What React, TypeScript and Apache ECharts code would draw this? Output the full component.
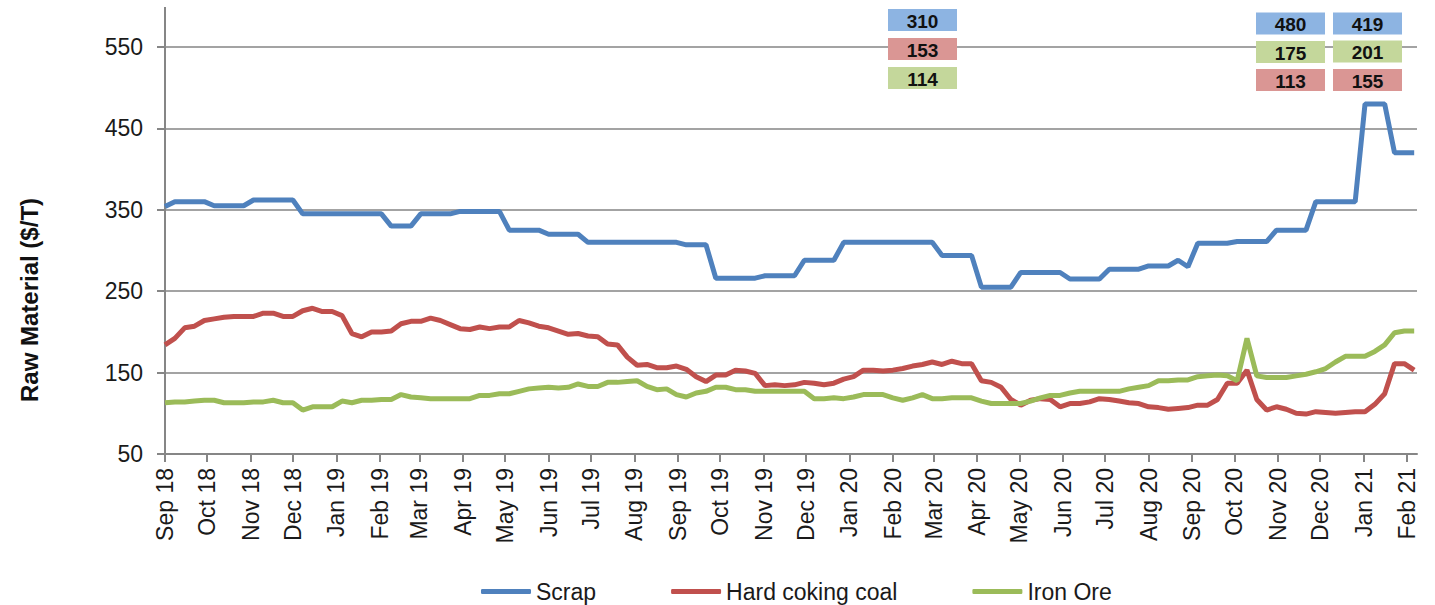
import React, { useEffect, useRef } from 'react';
import * as echarts from 'echarts';

// ---- data ----
const startDate = Date.UTC(2018, 8, 1); // first weekly observation, 1 Sep 2018
const axisDays = 892; // daily category axis, 1 Sep 2018 .. 8 Feb 2021

const monthLabels = [
  'Sep 18', 'Oct 18', 'Nov 18', 'Dec 18',
  'Jan 19', 'Feb 19', 'Mar 19', 'Apr 19', 'May 19', 'Jun 19', 'Jul 19', 'Aug 19', 'Sep 19', 'Oct 19', 'Nov 19', 'Dec 19',
  'Jan 20', 'Feb 20', 'Mar 20', 'Apr 20', 'May 20', 'Jun 20', 'Jul 20', 'Aug 20', 'Sep 20', 'Oct 20', 'Nov 20', 'Dec 20',
  'Jan 21', 'Feb 21',
];

const yTicks = [50, 150, 250, 350, 450, 550];

// weekly values, $/T
const scrap = [
  354, 360, 360, 360, 360, 355, 355, 355, 355, 362,
  362, 362, 362, 362, 345, 345, 345, 345, 345, 345,
  345, 345, 345, 330, 330, 330, 345, 345, 345, 345,
  348, 348, 348, 348, 348, 325, 325, 325, 325, 320,
  320, 320, 320, 310, 310, 310, 310, 310, 310, 310,
  310, 310, 310, 307, 307, 307, 266, 266, 266, 266,
  266, 269, 269, 269, 269, 288, 288, 288, 288, 310,
  310, 310, 310, 310, 310, 310, 310, 310, 310, 294,
  294, 294, 294, 255, 255, 255, 255, 273, 273, 273,
  273, 273, 265, 265, 265, 265, 277, 277, 277, 277,
  281, 281, 281, 288, 280, 309, 309, 309, 309, 311,
  311, 311, 311, 325, 325, 325, 325, 360, 360, 360,
  360, 360, 480, 480, 480, 420, 420, 420,
];

const coal = [
  184, 192, 205, 207, 214, 216, 218, 219, 219, 219,
  223, 223, 219, 219, 226, 229, 225, 225, 220, 198,
  194, 200, 200, 201, 210, 213, 213, 217, 214, 209,
  204, 203, 206, 204, 206, 206, 214, 211, 207, 205,
  201, 197, 198, 195, 194, 185, 184, 169, 159, 160,
  156, 156, 158, 154, 145, 139, 147, 147, 153, 152,
  149, 134, 135, 134, 135, 138, 137, 135, 137, 142,
  145, 153, 153, 152, 153, 155, 158, 160, 163, 160,
  164, 161, 161, 140, 138, 132, 117, 110, 116, 118,
  117, 108, 112, 112, 114, 118, 117, 115, 113, 112,
  108, 107, 105, 106, 107, 110, 110, 117, 137, 137,
  153, 117, 104, 108, 105, 100, 99, 102, 101, 100,
  101, 102, 102, 111, 124, 161, 161, 153,
];

const iron = [
  113, 114, 114, 115, 116, 116, 113, 113, 113, 114,
  114, 116, 113, 113, 104, 108, 108, 108, 115, 113,
  116, 116, 117, 117, 123, 120, 119, 118, 118, 118,
  118, 118, 122, 122, 124, 124, 127, 130, 131, 132,
  131, 132, 136, 133, 133, 138, 138, 139, 140, 133,
  129, 130, 123, 120, 125, 127, 132, 132, 129, 129,
  127, 127, 127, 127, 127, 127, 118, 118, 119, 118,
  120, 123, 123, 123, 119, 116, 119, 123, 118, 118,
  119, 119, 119, 115, 112, 112, 112, 112, 115, 119,
  122, 122, 125, 127, 127, 127, 127, 127, 130, 132,
  134, 140, 140, 141, 141, 145, 146, 147, 146, 140,
  192, 146, 144, 144, 144, 146, 148, 151, 155, 163,
  170, 170, 170, 176, 184, 199, 201, 201,
];

// annotation callouts (value text, and which series colour each box uses)
const calloutValues = [
  ['310', '153', '114'],
  ['480', '175', '113'],
  ['419', '201', '155'],
];
const calloutKinds = [
  ['scrap', 'coal', 'iron'],
  ['scrap', 'iron', 'coal'],
  ['scrap', 'iron', 'coal'],
];

// ---- styles / layout ----
const FONT = '"Liberation Sans", Arial, sans-serif';
const COLORS = { scrap: '#4F81BD', coal: '#C0504D', iron: '#9BBB59' };
const BOX_COLORS = { scrap: '#8DB4E2', coal: '#DA9694', iron: '#C4D79B' };
const AXIS_COLOR = '#868686';
const GRID_COLOR = '#a3a3a3';

const calloutX = [888, 1256, 1333];
const calloutY = [
  [9, 38, 67],
  [12.5, 41, 69],
  [12.5, 40.5, 69],
];
const BOX_W = 69;
const BOX_H = 22;

function pad(n: number) {
  return n < 10 ? '0' + n : String(n);
}

const dayCategories: string[] = [];
for (let i = 0; i < axisDays; i++) {
  const d = new Date(startDate + i * 86400000);
  dayCategories.push(`${d.getUTCFullYear()}-${pad(d.getUTCMonth() + 1)}-${pad(d.getUTCDate())}`);
}

function weekly(values: number[]) {
  return values.map((v, k) => [k * 7, v]);
}

function isMonthStart(_i: number, value: string) {
  return typeof value === 'string' && value.slice(8, 10) === '01';
}

function monthLabel(value: string) {
  const y = Number(value.slice(0, 4));
  const m = Number(value.slice(5, 7));
  const idx = (y - 2018) * 12 + (m - 1) - 8;
  return monthLabels[idx] ?? '';
}

export default function App() {
  const ref = useRef<HTMLDivElement>(null);

  useEffect(() => {
    if (!ref.current) return;
    const chart = echarts.init(ref.current, undefined, { renderer: 'svg' });

    const callouts: any[] = [];
    calloutValues.forEach((col, c) => {
      col.forEach((txt, r) => {
        const kind = calloutKinds[c][r] as keyof typeof BOX_COLORS;
        callouts.push({
          type: 'rect',
          shape: { x: calloutX[c], y: calloutY[c][r], width: BOX_W, height: BOX_H },
          style: { fill: BOX_COLORS[kind] },
          z: 100,
        });
        callouts.push({
          type: 'text',
          x: calloutX[c] + BOX_W / 2,
          y: calloutY[c][r] + BOX_H / 2 + 1,
          style: {
            text: txt,
            align: 'center',
            verticalAlign: 'middle',
            fontFamily: FONT,
            fontWeight: 'bold',
            fontSize: 19,
            fill: '#111',
          },
          z: 101,
        });
      });
    });

    chart.setOption({
      animation: false,
      backgroundColor: '#ffffff',
      grid: { left: 165, right: 18, top: 47, bottom: 151, containLabel: false },
      legend: {
        left: 476,
        top: 575,
        itemGap: 75,
        itemWidth: 50,
        itemHeight: 5,
        icon: 'roundRect',
        textStyle: { fontFamily: FONT, fontSize: 23, color: '#1a1a1a' },
        data: ['Scrap', 'Hard coking coal', 'Iron Ore'],
      },
      xAxis: {
        type: 'category',
        data: dayCategories,
        boundaryGap: false,
        axisLine: { lineStyle: { color: AXIS_COLOR, width: 2 } },
        axisTick: {
          show: true,
          interval: isMonthStart,
          length: 8,
          lineStyle: { color: AXIS_COLOR, width: 2 },
        },
        axisLabel: {
          interval: isMonthStart,
          formatter: monthLabel,
          rotate: 90,
          margin: 14,
          fontFamily: FONT,
          fontSize: 23,
          color: '#1a1a1a',
        },
        splitLine: { show: false },
      },
      yAxis: {
        type: 'value',
        min: yTicks[0],
        max: yTicks[yTicks.length - 1],
        interval: 100,
        axisLine: { show: true, lineStyle: { color: AXIS_COLOR, width: 2 } },
        axisTick: { show: true, length: 8, lineStyle: { color: AXIS_COLOR, width: 2 } },
        axisLabel: { margin: 22, fontFamily: FONT, fontSize: 23, color: '#1a1a1a' },
        splitLine: { show: true, lineStyle: { color: GRID_COLOR, width: 2 } },
      },
      series: [
        {
          name: 'Scrap',
          type: 'line',
          data: weekly(scrap),
          showSymbol: false,
          symbol: 'none',
          color: COLORS.scrap,
          lineStyle: { width: 5, color: COLORS.scrap },
          z: 3,
        },
        {
          name: 'Hard coking coal',
          type: 'line',
          data: weekly(coal),
          showSymbol: false,
          symbol: 'none',
          color: COLORS.coal,
          lineStyle: { width: 5, color: COLORS.coal },
          z: 2,
        },
        {
          name: 'Iron Ore',
          type: 'line',
          data: weekly(iron),
          showSymbol: false,
          symbol: 'none',
          color: COLORS.iron,
          lineStyle: { width: 5, color: COLORS.iron },
          z: 2,
        },
      ],
      graphic: [
        {
          type: 'line',
          shape: { x1: 165, y1: 7, x2: 165, y2: 47 },
          style: { stroke: AXIS_COLOR, lineWidth: 2 },
        },
        {
          type: 'text',
          x: 29,
          y: 300,
          rotation: Math.PI / 2,
          style: {
            text: 'Raw Material ($/T)',
            align: 'center',
            verticalAlign: 'middle',
            fontFamily: FONT,
            fontWeight: 'bold',
            fontSize: 24,
            fill: '#111',
          },
        },
        ...callouts,
      ],
    });

    return () => chart.dispose();
  }, []);

  return (
    <div
      ref={ref}
      style={{ position: 'fixed', left: 0, top: 0, width: 1435, height: 605, background: '#fff' }}
    />
  );
}
